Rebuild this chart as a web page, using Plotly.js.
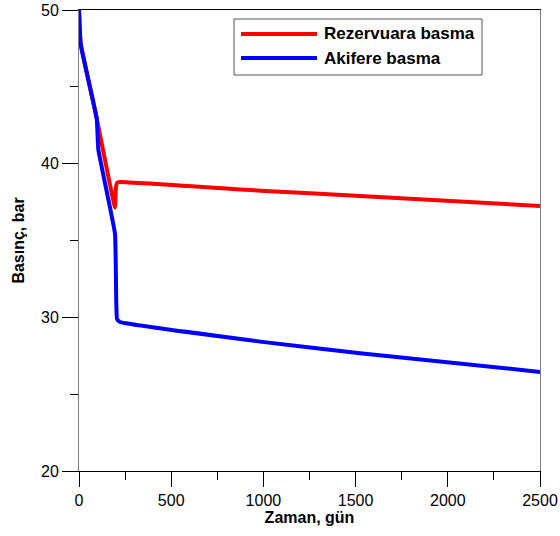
<!DOCTYPE html>
<html>
<head>
<meta charset="utf-8">
<script src="https://cdn.plot.ly/plotly-3.0.1.min.js"></script>
<style>html,body{margin:0;padding:0;background:#fff;}#chart{width:560px;height:536px;}</style>
</head>
<body>
<div id="chart"></div>
<script>
// Data
const seriesNames = ["Rezervuara basma", "Akifere basma"];
const seriesColors = ["#ff0000", "#0000ff"];

const timeRez = [0, 9, 96, 195, 199, 206, 222, 982, 1524, 2500];
const presRez = [50, 47.8, 42.95, 37.15, 38.3, 38.75, 38.8, 38.24, 37.90, 37.25];

const timeAq = [0, 9, 96, 105, 195, 202, 206, 222, 982, 1524, 2500];
const presAq = [50, 47.8, 42.95, 40.9, 35.45, 31.0, 29.9, 29.7, 28.42, 27.66, 26.45];

const xTickVals = [0, 500, 1000, 1500, 2000, 2500];
const yTickVals = [20, 30, 40, 50];

const FONT = "Liberation Sans, Arial, sans-serif";

const traces = [
  {x: timeRez, y: presRez, name: seriesNames[0], mode: "lines",
   line: {color: seriesColors[0], width: 4, shape: "spline", smoothing: 0.3}, showlegend: false},
  {x: timeAq, y: presAq, name: seriesNames[1], mode: "lines",
   line: {color: seriesColors[1], width: 4, shape: "spline", smoothing: 0.3}, showlegend: false}
];

// Custom legend (box, line samples, labels) in paper coordinates
const lx0 = (234 - 79) / 461, lx1 = (482 - 79) / 461;
const ly0 = 1 - (75 - 10) / 461, ly1 = 1 - (19 - 10) / 461;
const rowY = [1 - (34 - 10) / 461, 1 - (58 - 10) / 461];
const shapes = [
  {type: "rect", xref: "paper", yref: "paper", x0: lx0, x1: lx1, y0: ly0, y1: ly1,
   line: {color: "#555", width: 1}, fillcolor: "#fff", layer: "above"}
];
const annotations = [];
seriesNames.forEach((n, i) => {
  shapes.push({type: "line", xref: "paper", yref: "paper",
    x0: (241 - 79) / 461, x1: (317 - 79) / 461, y0: rowY[i], y1: rowY[i],
    line: {color: seriesColors[i], width: 4}, layer: "above"});
  annotations.push({xref: "paper", yref: "paper", x: (322 - 79) / 461, y: rowY[i],
    xanchor: "left", yanchor: "middle", text: "<b>" + n + "</b>", showarrow: false,
    font: {family: FONT, size: 17, color: "#000"}});
});

const layout = {
  width: 560, height: 536,
  margin: {l: 79, r: 20, t: 10, b: 65},
  paper_bgcolor: "#fff", plot_bgcolor: "#fff",
  font: {family: FONT, size: 16, color: "#000"},
  showlegend: false,
  xaxis: {
    range: [0, 2500], tickvals: xTickVals, ticks: "outside", ticklen: 15, tickwidth: 1,
    tickcolor: "#000", showline: true, linecolor: "#000", linewidth: 1, mirror: true,
    showgrid: false, zeroline: false,
    minor: {dtick: 250, tick0: 0, ticks: "outside", ticklen: 8, tickcolor: "#000", showgrid: false},
    tickfont: {family: FONT, size: 16, color: "#000"},
    title: {text: "<b>Zaman, gün</b>", font: {family: FONT, size: 16, color: "#000"}, standoff: 3}
  },
  yaxis: {
    range: [20, 50], tickvals: yTickVals, ticks: "outside", ticklen: 16, tickwidth: 1,
    tickcolor: "#000", showline: true, linecolor: "#7f7f7f", linewidth: 1, mirror: true,
    showgrid: false, zeroline: false,
    minor: {dtick: 5, tick0: 20, ticks: "outside", ticklen: 8, tickcolor: "#000", showgrid: false},
    tickfont: {family: FONT, size: 16, color: "#000"},
    title: {text: "<b>Basınç, bar</b>", font: {family: FONT, size: 16, color: "#000"}, standoff: 12}
  },
  shapes: shapes,
  annotations: annotations
};

Plotly.newPlot("chart", traces, layout, {displayModeBar: false, staticPlot: true});
</script>
</body>
</html>
